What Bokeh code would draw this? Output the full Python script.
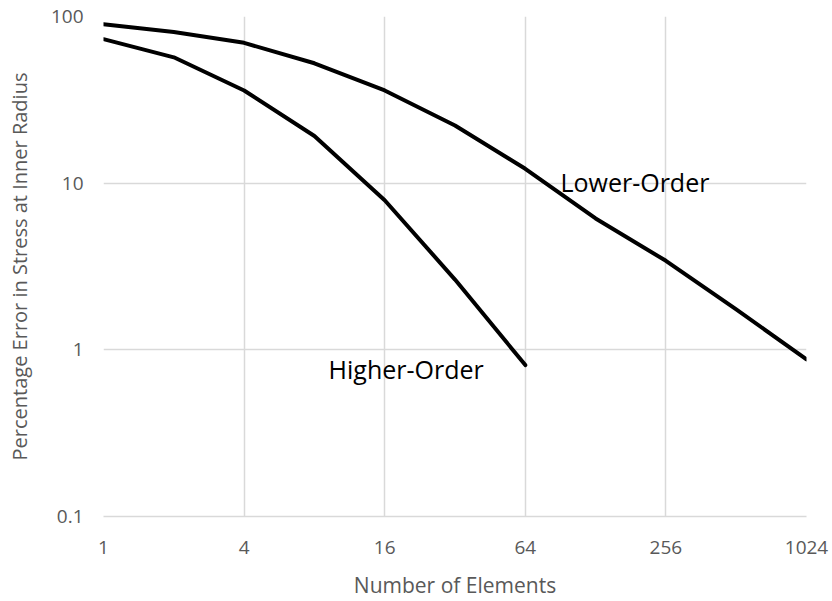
from bokeh.plotting import figure
from bokeh.models import Range1d, FixedTicker, ColumnDataSource
from bokeh.core.properties import value
from bokeh.embed import file_html
from bokeh.resources import INLINE

# Data
elements = [1, 2, 4, 8, 16, 32, 64, 128, 256, 512, 1024]
lower_order = [89.8, 80.8, 69.5, 52.4, 36.0, 22.2, 12.2, 6.14, 3.42, 1.75, 0.877]
higher_elements = [1, 2, 4, 8, 16, 32, 64]
higher_order = [73.1, 56.9, 36.0, 19.2, 7.9, 2.64, 0.81]

x_ticks = [1, 4, 16, 64, 256, 1024]
x_tick_labels = ["1", "4", "16", "64", "256", "1024"]
y_ticks = [0.1, 1, 10, 100]
y_tick_labels = ["0.1", "1", "10", "100"]

series_labels = ["Higher-Order", "Lower-Order"]
label_x = [9.2, 90.5]
label_y = [0.77, 10.15]

FONT = "Open Sans"
GRAY = "#595959"
GRID = "#d9d9d9"

p = figure(width=832, height=601, x_axis_type="log", y_axis_type="log",
           x_range=Range1d(1, 1024), y_range=Range1d(0.1, 100),
           output_backend="svg", toolbar_location=None,
           min_border_left=103, min_border_right=26, min_border_top=16, min_border_bottom=80)
p.outline_line_color = None
p.background_fill_color = "white"
p.border_fill_color = "white"

p.xaxis.ticker = FixedTicker(ticks=x_ticks, minor_ticks=[])
p.yaxis.ticker = FixedTicker(ticks=y_ticks, minor_ticks=[])
p.xaxis.major_label_overrides = {t: l for t, l in zip(x_ticks, x_tick_labels)}
p.yaxis.major_label_overrides = {t: l for t, l in zip(y_ticks, y_tick_labels)}

for ax in (p.xaxis, p.yaxis):
    ax.major_tick_line_color = None
    ax.minor_tick_line_color = None
    ax.major_tick_out = 0
    ax.major_tick_in = 0
    ax.major_label_text_font = FONT
    ax.major_label_text_font_size = "19px"
    ax.major_label_text_color = GRAY
    ax.axis_label_text_font = FONT
    ax.axis_label_text_font_style = "normal"
    ax.axis_label_text_color = GRAY

p.xaxis.axis_label_text_font_size = "21px"
p.yaxis.axis_label_text_font_size = "20px"
p.xaxis.axis_line_color = GRID
p.xaxis.axis_line_width = 1.5
p.yaxis.axis_line_color = None
p.xaxis.major_label_standoff = 24
p.yaxis.major_label_standoff = 20
p.xaxis.axis_label_standoff = 14
p.yaxis.axis_label_standoff = 15
p.xaxis.axis_label = "Number of Elements"
p.yaxis.axis_label = "Percentage Error in Stress at Inner Radius"

p.xgrid.grid_line_color = GRID
p.ygrid.grid_line_color = GRID
p.xgrid.grid_line_width = 1.5
p.ygrid.grid_line_width = 1.5

p.line(elements, lower_order, line_color="black", line_width=4, line_join="round", line_cap="round")
p.line(higher_elements, higher_order, line_color="black", line_width=4, line_join="round", line_cap="round")

src = ColumnDataSource(dict(x=label_x, y=label_y, t=series_labels))
p.text(x="x", y="y", text="t", source=src, text_font=value(FONT), text_font_size="25px",
       text_color="black", text_baseline="alphabetic", text_align="left")

open("out.html", "w").write(file_html(p, INLINE))
